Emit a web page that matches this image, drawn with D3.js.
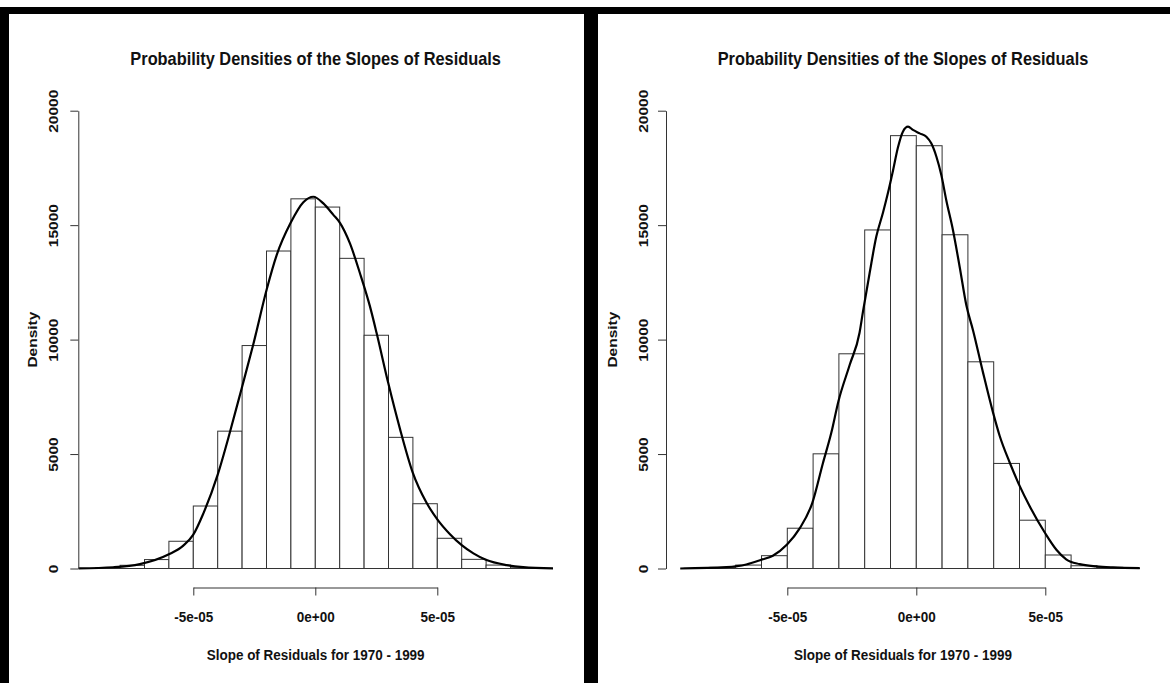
<!DOCTYPE html>
<html>
<head>
<meta charset="utf-8">
<script src="https://cdn.jsdelivr.net/npm/d3@7"></script>
<style>
  body { margin: 0; background: #fff; }
  text { font-family: "Liberation Sans", Arial, sans-serif; font-weight: bold; fill: #111; }
</style>
</head>
<body>
<svg width="1170" height="683"></svg>
<script>
// histogram bins: left edges, width 1e-05
const binStarts = [-9e-5, -8e-5, -7e-5, -6e-5, -5e-5, -4e-5, -3e-5, -2e-5, -1e-5, 0,
                   1e-5, 2e-5, 3e-5, 4e-5, 5e-5, 6e-5, 7e-5, 8e-5];
const binWidth = 1e-5;

const leftDensity = [30, 140, 390, 1190, 2730, 6000, 9740, 13870, 16150, 15790,
                     13550, 10190, 5730, 2830, 1320, 400, 150, 30];
const rightDensity = [10, 50, 150, 560, 1760, 5010, 9380, 14790, 18910, 18470,
                      14580, 9030, 4590, 2110, 590, 120, 50, 10];

// kernel density curves
const leftCurveX = [-9.71e-5, -8.28e-5, -7.19e-5, -6.0e-5, -5.41e-5, -5.0e-5, -4.59e-5, -4.0e-5,
  -3.5e-5, -3.01e-5, -2.54e-5, -1.99e-5, -1.58e-5, -1.01e-5, -0.49e-5, -0.08e-5, 0.33e-5,
  0.74e-5, 1.01e-5, 1.42e-5, 1.83e-5, 2.24e-5, 2.51e-5, 2.99e-5, 3.47e-5, 3.99e-5, 4.56e-5,
  5.0e-5, 5.52e-5, 6.0e-5, 6.48e-5, 6.99e-5, 7.84e-5, 8.52e-5, 9.75e-5];
const leftCurveY = [5, 55, 190, 620, 1000, 1480, 2400, 4100,
  5950, 7900, 9800, 12200, 13700, 15100, 16000, 16240, 15950,
  15450, 15100, 14200, 12900, 11450, 10300, 8100, 6100, 4200, 2870,
  2150, 1500, 1020, 660, 380, 150, 60, 5];

const rightCurveX = [-9.15e-5, -7.36e-5, -6.59e-5, -6.01e-5, -5.56e-5, -5.01e-5, -4.52e-5, -4.03e-5,
  -3.62e-5, -3.29e-5, -3.02e-5, -2.58e-5, -2.2e-5, -2.07e-5, -1.81e-5, -1.55e-5, -1.29e-5,
  -1.1e-5, -0.9e-5, -0.71e-5, -0.52e-5, -0.32e-5, -0.13e-5, 0.13e-5, 0.39e-5, 0.58e-5,
  0.78e-5, 0.97e-5, 1.16e-5, 1.42e-5, 1.68e-5, 1.94e-5, 2.2e-5, 2.58e-5, 2.97e-5, 3.23e-5,
  3.62e-5, 4.01e-5, 4.39e-5, 4.99e-5, 5.43e-5, 5.81e-5, 6.33e-5, 6.98e-5, 7.62e-5, 8.66e-5];
const rightCurveY = [0, 60, 175, 380, 560, 1050, 1750, 2870,
  4600, 5950, 7300, 8900, 10300, 11200, 12900, 14500, 15550,
  16400, 17400, 18400, 19085, 19300, 19160, 19010, 18865, 18575,
  17990, 17190, 16100, 14790, 13185, 11500, 10400, 8590, 6830, 5800,
  4630, 3600, 2730, 1550, 820, 400, 190, 90, 45, 15];

const xTicks = [-5e-5, 0, 5e-5];
const xTickLabels = ["-5e-05", "0e+00", "5e-05"];
const yTicks = [0, 5000, 10000, 15000, 20000];

const titleText = "Probability Densities of the Slopes of Residuals";
const xLabel = "Slope of Residuals for 1970 - 1999";
const yLabel = "Density";

// the screenshot is a bit narrower than tall, so glyphs get squeezed sideways
const squish = 0.87;

const svg = d3.select("svg");

// frame around the two screenshots
svg.append("rect").attr("x", 0).attr("y", 7).attr("width", 1170).attr("height", 7).attr("fill", "#000");
svg.append("rect").attr("x", 0).attr("y", 7).attr("width", 9).attr("height", 676).attr("fill", "#000");
svg.append("rect").attr("x", 584).attr("y", 7).attr("width", 14).attr("height", 676).attr("fill", "#000");

function drawPanel(id, layout, density, curveX, curveY) {
  const x = d3.scaleLinear().domain([-5e-5, 5e-5]).range(layout.xRange);
  const y = d3.scaleLinear().domain([0, 20000]).range([568.5, 110.7]);
  const g = svg.append("g");

  const top = y(20800), bottom = y(-800);
  g.append("clipPath").attr("id", id)
    .append("rect")
    .attr("x", layout.left).attr("y", top)
    .attr("width", layout.right - layout.left).attr("height", bottom - top);

  const plot = g.append("g").attr("clip-path", `url(#${id})`);

  plot.selectAll(".bar")
    .data(binStarts.map((b, i) => ({ x0: b, x1: b + binWidth, v: density[i] })))
    .enter().append("rect")
    .attr("class", "bar")
    .attr("x", d => x(d.x0))
    .attr("y", d => y(d.v))
    .attr("width", d => x(d.x1) - x(d.x0))
    .attr("height", d => y(0) - y(d.v))
    .attr("fill", "#fff")
    .attr("stroke", "#333")
    .attr("stroke-width", 1);

  const line = d3.line()
    .x(d => x(d[0]))
    .y(d => y(d[1]))
    .curve(d3.curveMonotoneX);

  plot.append("path")
    .datum(curveX.map((v, i) => [v, curveY[i]]))
    .attr("d", line)
    .attr("fill", "none")
    .attr("stroke", "#000")
    .attr("stroke-width", 2.2);

  // axes, R style: line only between first and last tick
  const xAxis = g.append("g")
    .attr("transform", `translate(0,${bottom + 0.7})`)
    .call(d3.axisBottom(x).tickValues(xTicks).tickSize(8).tickSizeOuter(0)
      .tickFormat((d, i) => xTickLabels[i]));
  xAxis.select(".domain").attr("stroke", "#333");
  xAxis.selectAll(".tick line").attr("stroke", "#333");
  xAxis.selectAll(".tick text")
    .attr("y", null).attr("dy", "0.35em")
    .attr("transform", `translate(0,29) scale(${squish},1)`)
    .attr("font-size", "15.5px")
    .attr("font-family", null);

  const yAxis = g.append("g")
    .attr("transform", `translate(${layout.left},0)`)
    .call(d3.axisLeft(y).tickValues(yTicks).tickSize(8).tickSizeOuter(0)
      .tickFormat(d3.format("d")));
  yAxis.select(".domain").attr("stroke", "#333");
  yAxis.selectAll(".tick line").attr("stroke", "#333");
  yAxis.selectAll(".tick text")
    .attr("x", null).attr("dy", "0.35em")
    .attr("text-anchor", "middle")
    .attr("transform", `translate(${layout.yLabelX - layout.left},0) rotate(-90) scale(1,${squish})`)
    .attr("font-size", "15.5px")
    .attr("font-family", null);

  const cx = (layout.left + layout.right) / 2;

  g.append("text")
    .attr("transform", `translate(${cx},58) scale(${squish},1)`)
    .attr("dy", "0.35em")
    .attr("text-anchor", "middle")
    .attr("font-size", "18.8px")
    .text(titleText);

  g.append("text")
    .attr("transform", `translate(${cx},655) scale(${squish},1)`)
    .attr("dy", "0.35em")
    .attr("text-anchor", "middle")
    .attr("font-size", "15.5px")
    .text(xLabel);

  g.append("text")
    .attr("transform", `translate(${layout.densityX},${(top + bottom) / 2}) rotate(-90) scale(1,${squish})`)
    .attr("dy", "0.35em")
    .attr("text-anchor", "middle")
    .attr("font-size", "15.5px")
    .text(yLabel);
}

drawPanel("clipL", { left: 78.3, right: 553, xRange: [193.3, 437.3], yLabelX: 53, densityX: 32 },
  leftDensity, leftCurveX, leftCurveY);
drawPanel("clipR", { left: 666, right: 1140, xRange: [787.3, 1045.3], yLabelX: 643, densityX: 612 },
  rightDensity, rightCurveX, rightCurveY);
</script>
</body>
</html>
